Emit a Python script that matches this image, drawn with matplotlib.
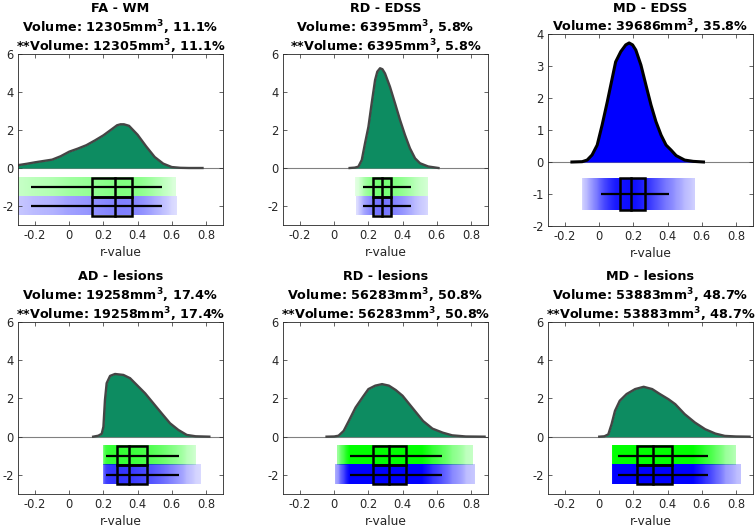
import numpy as np
import matplotlib
matplotlib.use("Agg")
import matplotlib.pyplot as plt

plt.rcParams['font.family'] = ['DejaVu Sans']
plt.rcParams['mathtext.fontset'] = 'dejavusans'
plt.rcParams['axes.unicode_minus'] = False

# ---------------- data ----------------
titles = ["FA - WM", "RD - EDSS", "MD - EDSS", "AD - lesions", "RD - lesions", "MD - lesions"]
volumes = [12305, 6395, 39686, 19258, 56283, 53883]
percents = [11.1, 5.8, 35.8, 17.4, 50.8, 48.7]
second_line = [True, True, False, True, True, True]

fa_wm_x = [-0.30, -0.25, -0.20, -0.15, -0.10, -0.05, 0.00, 0.05, 0.10, 0.15, 0.20, 0.25, 0.28, 0.30,
           0.32, 0.35, 0.40, 0.45, 0.50, 0.55, 0.60, 0.65, 0.70, 0.78]
fa_wm_y = [0.15, 0.22, 0.30, 0.37, 0.44, 0.62, 0.86, 1.02, 1.20, 1.45, 1.72, 2.05, 2.25, 2.30,
           2.30, 2.22, 1.75, 1.14, 0.58, 0.23, 0.05, 0.01, 0.00, 0.00]

rd_edss_x = [0.09, 0.12, 0.141, 0.161, 0.18, 0.20, 0.219, 0.239, 0.252, 0.268, 0.282, 0.297, 0.326,
             0.356, 0.385, 0.414, 0.443, 0.473, 0.502, 0.55, 0.61]
rd_edss_y = [0.00, 0.02, 0.07, 0.42, 1.30, 2.17, 3.40, 4.63, 5.07, 5.25, 5.20, 4.98, 4.28,
             3.40, 2.53, 1.74, 1.04, 0.51, 0.25, 0.08, 0.00]

md_edss_x = [-0.16, -0.10, -0.071, -0.042, -0.012, 0.017, 0.047, 0.076, 0.096, 0.126, 0.155, 0.175,
             0.195, 0.214, 0.244, 0.273, 0.303, 0.332, 0.362, 0.391, 0.421, 0.45, 0.50, 0.55, 0.61]
md_edss_y = [0.00, 0.01, 0.06, 0.22, 0.53, 1.16, 1.88, 2.62, 3.13, 3.45, 3.66, 3.72,
             3.66, 3.50, 3.03, 2.41, 1.78, 1.26, 0.84, 0.53, 0.37, 0.20, 0.06, 0.02, 0.00]

ad_les_x = [0.14, 0.17, 0.19, 0.20, 0.209, 0.219, 0.239, 0.268, 0.317, 0.356, 0.395, 0.444, 0.492,
            0.541, 0.59, 0.639, 0.688, 0.74, 0.82]
ad_les_y = [0.00, 0.05, 0.15, 0.52, 1.92, 2.80, 3.18, 3.28, 3.23, 3.06, 2.71, 2.27, 1.75,
            1.22, 0.70, 0.35, 0.09, 0.02, 0.00]

rd_les_x = [-0.045, 0.00, 0.025, 0.055, 0.085, 0.125, 0.165, 0.20, 0.24, 0.28, 0.32, 0.36, 0.40,
            0.44, 0.48, 0.52, 0.575, 0.635, 0.69, 0.77, 0.88]
rd_les_y = [0.00, 0.01, 0.05, 0.30, 0.82, 1.53, 2.05, 2.49, 2.67, 2.75, 2.67, 2.44, 2.14,
            1.70, 1.26, 0.82, 0.42, 0.21, 0.07, 0.01, 0.00]

md_les_x = [0.00, 0.03, 0.053, 0.072, 0.092, 0.12, 0.16, 0.21, 0.26, 0.31, 0.355, 0.405, 0.445,
            0.50, 0.56, 0.62, 0.68, 0.735, 0.80, 0.88]
md_les_y = [0.00, 0.02, 0.12, 0.65, 1.35, 1.88, 2.23, 2.49, 2.61, 2.49, 2.23, 1.96, 1.70,
            1.18, 0.74, 0.39, 0.16, 0.04, 0.01, 0.00]

curves_x = [fa_wm_x, rd_edss_x, md_edss_x, ad_les_x, rd_les_x, md_les_x]
curves_y = [fa_wm_y, rd_edss_y, md_edss_y, ad_les_y, rd_les_y, md_les_y]

box_q1 = [0.131, 0.228, 0.122, 0.281, 0.225, 0.219]
box_med = [0.269, 0.277, 0.184, 0.352, 0.320, 0.316]
box_q3 = [0.370, 0.332, 0.265, 0.457, 0.418, 0.424]
whisk_lo = [-0.223, 0.168, 0.008, 0.213, 0.094, 0.107]
whisk_hi = [0.545, 0.449, 0.406, 0.643, 0.633, 0.639]

green_cloud_lo = [-0.30, 0.12, None, 0.20, 0.016, 0.072]
green_cloud_hi = [0.62, 0.545, None, 0.74, 0.81, 0.795]
blue_cloud_lo = [-0.30, 0.13, -0.10, 0.20, 0.006, 0.072]
blue_cloud_hi = [0.63, 0.55, 0.56, 0.77, 0.82, 0.824]

x_ticks = [-0.2, 0, 0.2, 0.4, 0.6, 0.8]
x_ticklabels = ["-0.2", "0", "0.2", "0.4", "0.6", "0.8"]

# ---------------- style ----------------
DENS_GREEN = (0.05, 0.55, 0.38)
AX_COL = (0.15, 0.15, 0.15)
cloud_strength = [0.5, 0.55, 0.95, 0.8, 1.4, 1.4]

fig = plt.figure(figsize=(7.55, 5.30), dpi=100)
W, H = 755.0, 530.0
lefts = [18, 283, 548]
rects = []
for r in range(2):
    for c in range(3):
        if r == 0:
            top, bot = (34, 226) if c == 2 else (54, 225)
        else:
            top, bot = 322, 494
        rects.append([lefts[c] / W, 1 - bot / H, 205 / W, (bot - top) / H])


def draw_cloud(ax, lo, hi, yc, color, xs, ys, strength):
    grid = np.linspace(lo, hi, 300)
    d = np.interp(grid, xs, ys, left=0.0, right=0.0)
    dmax = max(ys)
    a = np.clip(strength * (np.clip(d, 0, None) / dmax) ** 0.3, 0, 1)
    img = np.zeros((1, len(grid), 4))
    img[..., 0], img[..., 1], img[..., 2] = color
    img[0, :, 3] = a
    ax.imshow(img, extent=(lo, hi, yc - 0.5, yc + 0.5), aspect='auto',
              interpolation='bilinear', zorder=1)


def draw_box(ax, i, yc):
    ax.plot([whisk_lo[i], whisk_hi[i]], [yc, yc], color='black', lw=1.6, zorder=3,
            solid_capstyle='butt')
    ax.add_patch(plt.Rectangle((box_q1[i], yc - 0.5), box_q3[i] - box_q1[i], 1.0,
                               fill=False, edgecolor='black', lw=1.8, zorder=4))
    ax.plot([box_med[i], box_med[i]], [yc - 0.5, yc + 0.5], color='black', lw=1.8, zorder=4)


PX = 0.72  # points per pixel at 100 dpi
for i in range(6):
    ax = fig.add_axes(rects[i])
    xs, ys = curves_x[i], curves_y[i]
    blue_panel = (i == 2)
    fill_col = (0, 0, 1) if blue_panel else DENS_GREEN
    edge_col = 'black' if blue_panel else (0.27, 0.27, 0.27)
    ax.axhline(0, color=(0.5, 0.5, 0.5), lw=0.8, zorder=1.5)
    ax.fill_between(xs, 0, ys, color=fill_col, lw=0, zorder=2)
    ax.plot(xs, ys, color=edge_col, lw=2.2 if blue_panel else 1.7, zorder=2.5,
            solid_joinstyle='round')

    if blue_panel:
        draw_cloud(ax, blue_cloud_lo[i], blue_cloud_hi[i], -1, (0, 0, 1), xs, ys, cloud_strength[i])
        draw_box(ax, i, -1)
    else:
        draw_cloud(ax, green_cloud_lo[i], green_cloud_hi[i], -1, (0, 1, 0), xs, ys, cloud_strength[i])
        draw_cloud(ax, blue_cloud_lo[i], blue_cloud_hi[i], -2, (0, 0, 1), xs, ys, cloud_strength[i])
        draw_box(ax, i, -1)
        draw_box(ax, i, -2)

    ax.set_xlim(-0.3, 0.9)
    if blue_panel:
        ax.set_ylim(-2, 4)
        ax.set_yticks([-2, -1, 0, 1, 2, 3, 4])
    else:
        ax.set_ylim(-3, 6)
        ax.set_yticks([-2, 0, 2, 4, 6])
    ax.set_xticks(x_ticks)
    ax.set_xticklabels(x_ticklabels)
    ax.tick_params(direction='in', top=True, right=True, length=3, width=0.5,
                   colors=AX_COL, labelsize=8.3, labelcolor=AX_COL, pad=3)
    for s in ax.spines.values():
        s.set_color(AX_COL)
        s.set_linewidth(0.6)
    ax.set_xlabel("r-value", fontsize=8.8, color=AX_COL, labelpad=2.5)

    line = "Volume: %dmm$^{\\mathbf{3}}$, %.1f%%" % (volumes[i], percents[i])
    lines = [titles[i], line]
    if second_line[i]:
        lines.append("**" + line)
    n = len(lines)
    for k, txt in enumerate(lines):
        off_px = 2.5 + 19.7 * (n - 1 - k)
        ax.annotate(txt, xy=(0.5, 1.0), xycoords='axes fraction',
                    xytext=(0, off_px * PX), textcoords='offset points',
                    ha='center', va='baseline', fontsize=9.2, fontweight='bold',
                    color='black', annotation_clip=False)

fig.savefig("out.png", dpi=100)
